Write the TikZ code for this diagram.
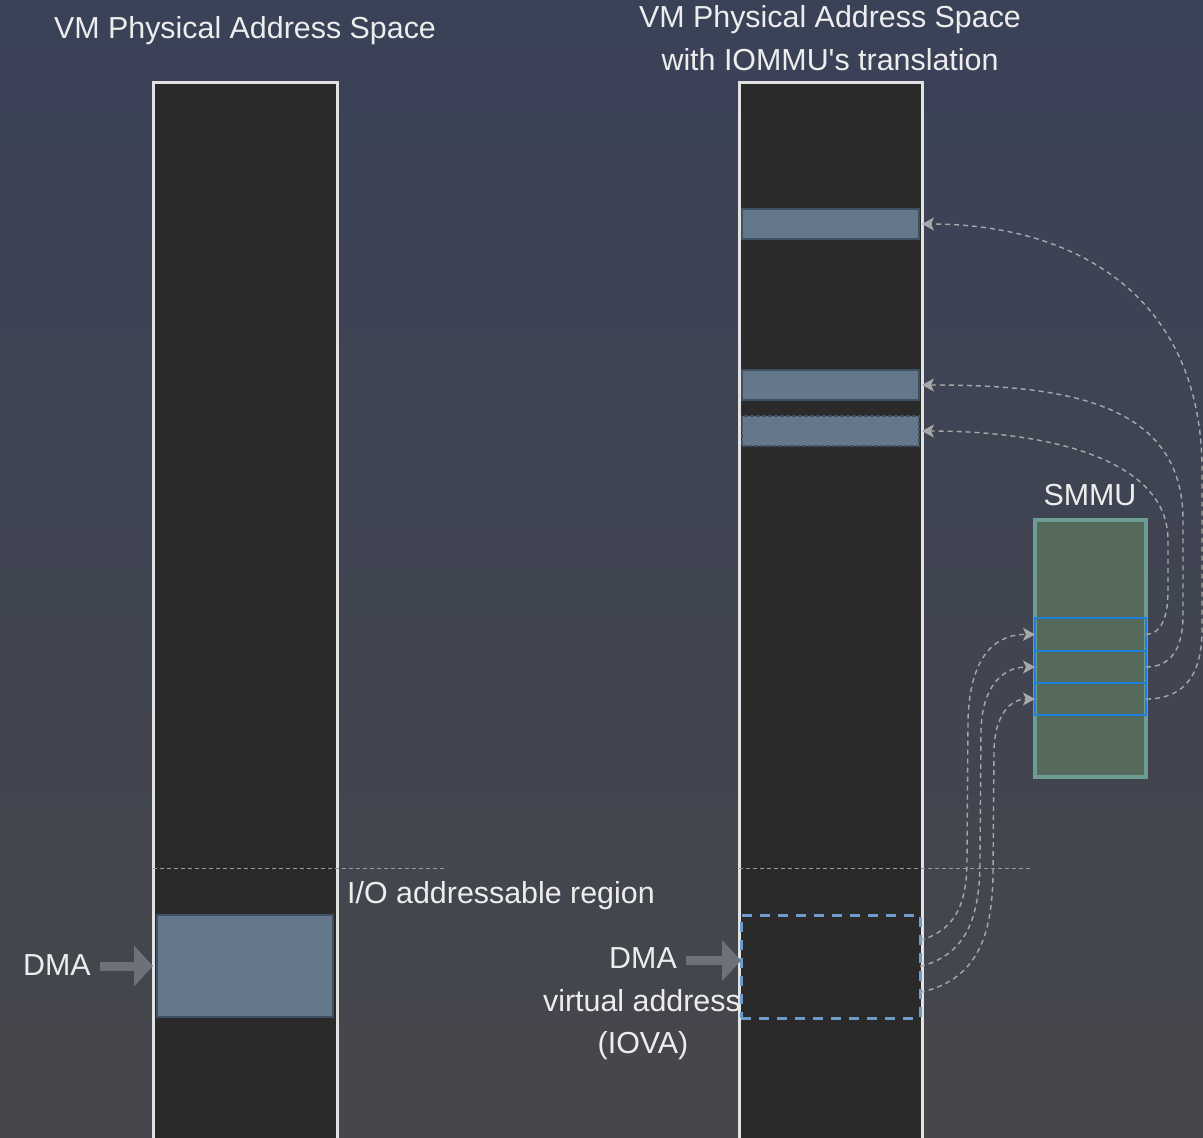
\documentclass[tikz,border=0pt]{standalone}
\usepackage{fontspec}
\newfontfamily\lsans{Liberation Sans}
\usetikzlibrary{arrows.meta}
\definecolor{bgtop}{HTML}{3A4258}
\definecolor{bgbot}{HTML}{46474C}
\definecolor{colfill}{HTML}{2A2A2A}
\definecolor{colline}{HTML}{E2E2E2}
\definecolor{blkfill}{HTML}{65778A}
\definecolor{blkline}{HTML}{3E5064}
\definecolor{txt}{HTML}{EDEDED}
\definecolor{guidec}{HTML}{9A9A9A}
\definecolor{curvec}{HTML}{A8A8A8}
\definecolor{fatc}{HTML}{6C717A}
\definecolor{iovac}{HTML}{6E9DCB}
\definecolor{smmufill}{HTML}{566A5B}
\definecolor{smmuline}{HTML}{6D9C92}
\definecolor{rowline}{HTML}{1F80DA}
\begin{document}
\begin{tikzpicture}[x=1pt,y=-1pt,
  lbl/.style={font={\lsans\fontsize{30.4}{36}\selectfont}, text=txt, inner sep=0pt, anchor=base},
  box/.style={rectangle, inner sep=0pt, outer sep=0pt, anchor=north west},
  colbox/.style={box, fill=colfill, draw=colline, line width=3pt},
  blk/.style={box, fill=blkfill, draw=blkline, line width=2pt},
  guide/.style={draw=guidec, line width=1pt, dash pattern=on 4pt off 3pt},
  conn/.style={draw=curvec, line width=1.4pt, dash pattern=on 5pt off 4pt,
    -{Stealth[length=12pt,width=13pt,inset=3pt,fill=curvec]}},
  fat/.style={draw=fatc, line width=9pt, -{Triangle[length=19pt,width=40pt]}},
  rowbox/.style={box, draw=rowline, line width=2pt, minimum width=111pt}
]
\useasboundingbox (0,0) rectangle (1203,1138);
\shade[top color=bgtop, bottom color=bgbot] (0,0) rectangle (1203,1138);
\clip (0,0) rectangle (1203,1138);

% columns
\node[colbox, minimum width=184pt, minimum height=1120pt] (colL) at (153,82) {};
\node[colbox, minimum width=183pt, minimum height=1120pt] (colR) at (739,82) {};

% blocks in right column
\node[blk, minimum width=177pt, minimum height=30pt] (b1) at (742,209) {};
\node[blk, minimum width=177pt, minimum height=30pt] (b2) at (742,370) {};
\node[blk, minimum width=177pt, minimum height=30pt, line width=1.2pt, dash pattern=on 4pt off 2pt] (b3) at (742,416) {};

% left DMA block
\node[blk, minimum width=176pt, minimum height=102pt] (blkL) at (157,915) {};

% IOVA dashed box
\node[box, draw=iovac, line width=3pt, dash pattern=on 10pt off 8pt, minimum width=179pt, minimum height=103pt] (dmaBox) at (741,915) {};

% guide lines
\draw[guide] (153,868) -- (445,868);
\draw[guide] (739,868) -- (1030,868);

% SMMU
\node[box, fill=smmufill, draw=smmuline, line width=3.5pt, minimum width=111pt, minimum height=257pt] (smmu) at (1035,520) {};
\node[rowbox, minimum height=33pt] (r1) at (1035,618) {};
\node[rowbox, minimum height=32pt] (r2) at (1035,651) {};
\node[rowbox, minimum height=32pt] (r3) at (1035,683) {};

% labels
\node[lbl] (t1) at (245,38) {VM Physical Address Space};
\node[lbl] (t2a) at (830,27) {VM Physical Address Space};
\node[lbl] (t2b) at (830,70) {with IOMMU's translation};
\node[lbl] (smmuL) at (1090,505) {SMMU};
\node[lbl, anchor=base west] (io) at (347,903) {I/O addressable region};
\node[lbl] (dmaL) at (57,975) {DMA};
\node[lbl] (dmaR) at (643,968) {DMA};
\node[lbl] (va) at (642,1011) {virtual address};
\node[lbl] (iovaL) at (643,1053) {(IOVA)};

% curves DMA box -> SMMU rows
\draw[conn] ([yshift=26pt]dmaBox.east) .. controls (955,930) and (967,905) .. (967,860)
  -- (968,720) .. controls (970,650) and (1000,634) .. (r1.west);
\draw[conn] (dmaBox.east) .. controls (965,955) and (980,920) .. (980,860)
  -- (981,730) .. controls (982,690) and (1000,667) .. (r2.west);
\draw[conn] ([yshift=-26pt]dmaBox.east) .. controls (975,980) and (993,940) .. (993,870)
  -- (994,750) .. controls (995,715) and (1010,699) .. (r3.west);

% curves SMMU rows -> physical blocks
\draw[conn] (r1.east) .. controls (1160,634) and (1168,620) .. (1168,590)
  -- (1168,540) .. controls (1168,460) and (1050,431) .. ([xshift=3pt]b3.east);
\draw[conn] (r2.east) .. controls (1170,667) and (1183,650) .. (1183,615)
  -- (1183,520) .. controls (1183,400) and (1060,385) .. ([xshift=3pt]b2.east);
\draw[conn] (r3.east) .. controls (1180,699) and (1202,680) .. (1202,630)
  -- (1202,470) .. controls (1202,300) and (1080,224) .. ([xshift=3pt]b1.east);

% fat DMA arrows
\draw[fat] ([xshift=9pt]dmaL.east |- blkL.west) -- (blkL.west -| colL.west);
\draw[fat] ([xshift=9pt,yshift=-3pt]dmaR.east) -- ([yshift=-3pt]dmaR.east -| dmaBox.west);
\end{tikzpicture}
\end{document}
